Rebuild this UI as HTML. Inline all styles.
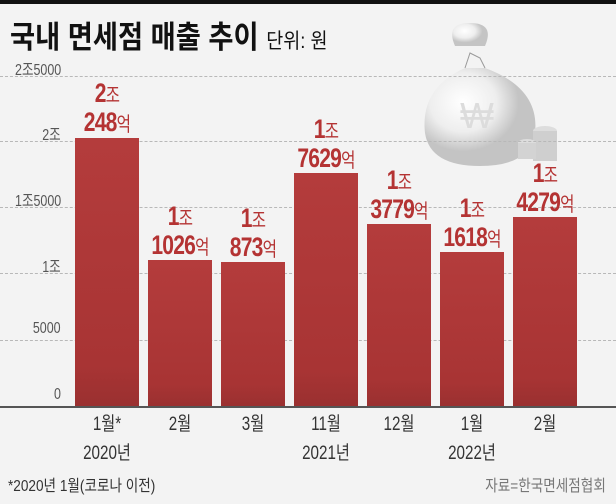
<!DOCTYPE html><html><head><meta charset="utf-8"><style>
body{margin:0;width:616px;height:504px;overflow:hidden;background:#f3f3f3;font-family:"Liberation Sans","Noto Sans CJK KR",sans-serif;position:relative}
.a{position:absolute}
.g{position:absolute;left:0;width:616px;border-top:1px dashed #b8b8b8}
.yl{position:absolute;right:555px;font-size:16px;color:#555;transform:scaleX(.78);transform-origin:right;white-space:nowrap}
.bar{position:absolute;width:64px;background:linear-gradient(#b43c3c,#a83434 85%,#9a3030);bottom:98px}
.v{position:absolute;width:90px;text-align:center;color:#b43333;font-weight:bold;font-size:27px;line-height:26px;letter-spacing:-1px;transform:scaleX(.78)}
.v small{font-size:20px;font-weight:normal}
.x{position:absolute;width:90px;text-align:center;font-size:19px;color:#333;line-height:29px;transform:scaleX(.8)}
</style></head><body>
<div class="a" style="left:0;top:0;width:616px;height:4px;background:#111"></div>
<div class="a" style="left:10px;top:12px;font-size:31px;font-weight:bold;color:#111;transform:scaleX(.88);transform-origin:left;white-space:nowrap">국내 면세점 매출 추이 <span style="font-size:21px;font-weight:normal">단위: 원</span></div>
<svg class="a" style="left:415px;top:18px" width="160" height="160">
<defs><radialGradient id="bg" cx="35%" cy="35%"><stop offset="0" stop-color="#fff"/><stop offset=".6" stop-color="#eee"/><stop offset="1" stop-color="#c4c4c4"/></radialGradient></defs>
<path d="M40 28 Q30 5 55 5 Q80 5 70 28 Z" fill="url(#bg)"/>
<path d="M50 50 Q5 70 10 115 Q15 148 65 148 Q115 148 120 115 Q125 70 70 50 Z" fill="url(#bg)"/>
<path d="M50 50 L55 35 L65 40 L70 50" stroke="#999" fill="none"/>
<text x="62" y="110" font-size="36" fill="#dcdcdc" text-anchor="middle" font-family="Liberation Sans">₩</text>
<ellipse cx="130" cy="113" rx="12" ry="5" fill="#ddd"/><rect x="118" y="113" width="24" height="30" fill="#cfcfcf"/>
<ellipse cx="112" cy="125" rx="9" ry="4" fill="#ddd"/><rect x="103" y="125" width="18" height="16" fill="#d3d3d3"/>
</svg>
<div class="g" style="top:76px"></div><div class="g" style="top:141px"></div><div class="g" style="top:207px"></div><div class="g" style="top:273px"></div><div class="g" style="top:340px"></div>
<div class="yl" style="top:56px">2조5000</div>
<div class="yl" style="top:121px">2조</div>
<div class="yl" style="top:187px">1조5000</div>
<div class="yl" style="top:253px">1조</div>
<div class="yl" style="top:320px">5000</div>
<div class="yl" style="top:386px">0</div>
<div class="bar" style="left:75px;height:268px"></div>
<div class="bar" style="left:148px;height:146px"></div>
<div class="bar" style="left:221px;height:144px"></div>
<div class="bar" style="left:294px;height:233px"></div>
<div class="bar" style="left:367px;height:182px"></div>
<div class="bar" style="left:440px;height:154px"></div>
<div class="bar" style="left:513px;height:189px"></div>
<div class="a" style="left:0;top:406px;width:616px;height:2px;background:#555"></div>
<div class="v" style="left:62px;top:80px">2<small>조</small><br>248<small>억</small></div>
<div class="v" style="left:135px;top:203px">1<small>조</small><br>1026<small>억</small></div>
<div class="v" style="left:208px;top:205px">1<small>조</small><br>873<small>억</small></div>
<div class="v" style="left:281px;top:116px">1<small>조</small><br>7629<small>억</small></div>
<div class="v" style="left:354px;top:167px">1<small>조</small><br>3779<small>억</small></div>
<div class="v" style="left:427px;top:195px">1<small>조</small><br>1618<small>억</small></div>
<div class="v" style="left:500px;top:160px">1<small>조</small><br>4279<small>억</small></div>
<div class="x" style="left:62px;top:410px">1월*<br>2020년</div>
<div class="x" style="left:135px;top:410px">2월</div>
<div class="x" style="left:208px;top:410px">3월</div>
<div class="x" style="left:281px;top:410px">11월<br>2021년</div>
<div class="x" style="left:354px;top:410px">12월</div>
<div class="x" style="left:427px;top:410px">1월<br>2022년</div>
<div class="x" style="left:500px;top:410px">2월</div>
<div class="a" style="left:8px;top:472px;font-size:16px;color:#333;transform:scaleX(.85);transform-origin:left;white-space:nowrap">*2020년 1월(코로나 이전)</div>
<div class="a" style="right:10px;top:472px;font-size:16px;color:#777;transform:scaleX(.85);transform-origin:right;white-space:nowrap">자료=한국면세점협회</div>
</body></html>
